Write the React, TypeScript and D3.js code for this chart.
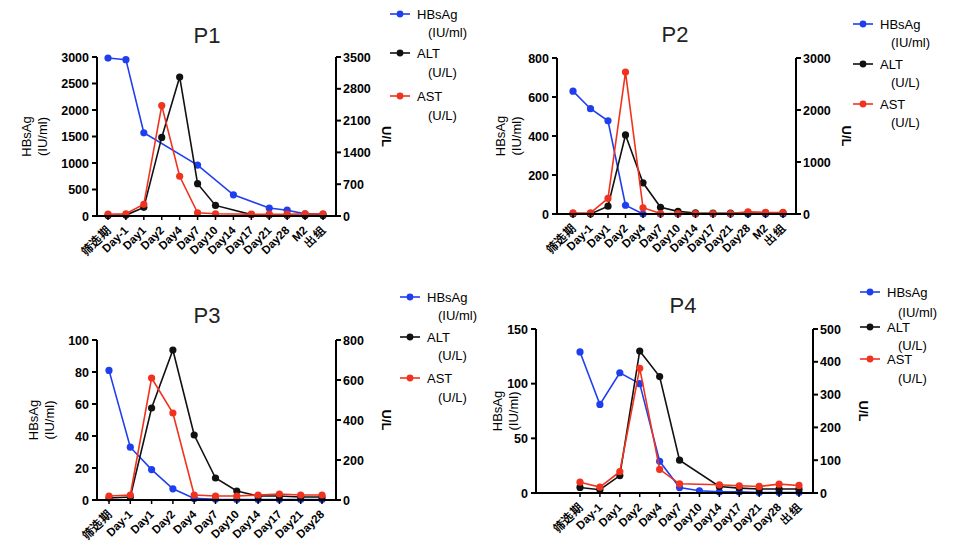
import React from 'react';
import * as d3 from 'd3';

const CATS_A = ['筛选期', 'Day-1', 'Day1', 'Day2', 'Day4', 'Day7', 'Day10', 'Day14', 'Day17', 'Day21', 'Day28', 'M2', '出组'];
const CATS_P3 = ['筛选期', 'Day-1', 'Day1', 'Day2', 'Day4', 'Day7', 'Day10', 'Day14', 'Day17', 'Day21', 'Day28'];
const CATS_P4 = ['筛选期', 'Day-1', 'Day1', 'Day2', 'Day4', 'Day7', 'Day10', 'Day14', 'Day17', 'Day21', 'Day28', '出组'];

type V = number | null;

const P1_HBSAG: V[] = [2980, 2950, 1570, null, null, 960, null, 400, null, 150, 110, 40, 30];
const P1_ALT: V[] = [10, 20, 190, 1730, 3060, 712, 233, null, 30, 20, 15, 10, 10];
const P1_AST: V[] = [40, 50, 257, 2430, 875, 70, 50, null, 40, 40, 40, 50, 45];

const P2_HBSAG: V[] = [630, 540, 478, 45, 0, 0, 0, 0, 0, 0, 0, 0, 0];
const P2_ALT: V[] = [0, 0, 150, 1520, 600, 130, 50, 20, 15, 15, 20, 20, 20];
const P2_AST: V[] = [20, 20, 300, 2730, 120, 10, 10, 10, 10, 10, 40, 30, 30];

const P3_HBSAG: V[] = [81, 33, 19, 7, 1, 0.5, 0.3, 0.3, 0.3, 0.3, 0.3];
const P3_ALT: V[] = [10, 15, 460, 750, 325, 110, 45, 20, 20, 15, 15];
const P3_AST: V[] = [20, 25, 610, 435, 25, 20, 20, 25, 30, 25, 25];

const P4_HBSAG: V[] = [129, 81, 110, 100, 29, 5, 2, 1, 1, 0.5, 0.5, 0.5];
const P4_ALT: V[] = [17, 10, 53, 433, 355, 100, null, 20, 15, 12, 12, 12];
const P4_AST: V[] = [33, 18, 65, 380, 72, 28, null, 25, 22, 20, 27, 23];

const BLUE = '#1f3fef';
const RED = '#f0321e';
const BLACK = '#111';
const FONT = 'Liberation Sans, Arial, sans-serif';

interface PanelProps {
  title: string;
  cats: string[];
  hbsag: V[];
  alt: V[];
  ast: V[];
  leftMax: number;
  leftTicks: number[];
  rightMax: number;
  rightTicks: number[];
  box: { left: number; right: number; top: number; bottom: number; x0: number; x1: number };
  labelOffset: number;
  titleX: number;
  titleY: number;
  legend: { x: number; ys: number[] };
}

function Panel(p: PanelProps) {
  const { box } = p;
  const x = d3.scalePoint<string>().domain(p.cats).range([box.x0, box.x1]);
  const yl = d3.scaleLinear().domain([0, p.leftMax]).range([box.bottom, box.top]);
  const yr = d3.scaleLinear().domain([0, p.rightMax]).range([box.bottom, box.top]);
  const series = [
    { vals: p.hbsag, y: yl, color: BLUE },
    { vals: p.alt, y: yr, color: BLACK },
    { vals: p.ast, y: yr, color: RED },
  ];
  const legendItems = [
    { name: 'HBsAg', unit: '(IU/ml)', color: BLUE },
    { name: 'ALT', unit: '(U/L)', color: BLACK },
    { name: 'AST', unit: '(U/L)', color: RED },
  ];
  const midY = (box.top + box.bottom) / 2;
  return (
    <g fontFamily={FONT}>
      <text x={p.titleX} y={p.titleY} textAnchor="middle" fontSize={22} fill="#222">{p.title}</text>
      {series.map((s, i) => {
        const pts = p.cats
          .map((c, j) => ({ c, v: s.vals[j] }))
          .filter((d) => d.v !== null) as { c: string; v: number }[];
        const line = d3.line<{ c: string; v: number }>().x((d) => x(d.c)!).y((d) => s.y(d.v));
        return (
          <g key={i}>
            <path d={line(pts) || ''} fill="none" stroke={s.color} strokeWidth={1.6} />
            {pts.map((d, j) => (
              <circle key={j} cx={x(d.c)} cy={s.y(d.v)} r={3.6} fill={s.color} />
            ))}
          </g>
        );
      })}
      {/* axes */}
      <line x1={box.left} x2={box.left} y1={box.top} y2={box.bottom} stroke="#000" strokeWidth={2} />
      <line x1={box.right} x2={box.right} y1={box.top} y2={box.bottom} stroke="#000" strokeWidth={2} />
      <line x1={box.left} x2={box.right} y1={box.bottom} y2={box.bottom} stroke="#000" strokeWidth={2} />
      {p.leftTicks.map((t) => (
        <g key={'l' + t}>
          <line x1={box.left - 5} x2={box.left} y1={yl(t)} y2={yl(t)} stroke="#000" strokeWidth={2} />
          <text x={box.left - 8} y={yl(t) + 4.5} textAnchor="end" fontSize={12.5} fontWeight="bold">{t}</text>
        </g>
      ))}
      {p.rightTicks.map((t) => (
        <g key={'r' + t}>
          <line x1={box.right} x2={box.right + 5} y1={yr(t)} y2={yr(t)} stroke="#000" strokeWidth={2} />
          <text x={box.right + 7} y={yr(t) + 4.5} textAnchor="start" fontSize={12.5} fontWeight="bold">{t}</text>
        </g>
      ))}
      {p.cats.map((c) => (
        <g key={c}>
          <line x1={x(c)} x2={x(c)} y1={box.bottom} y2={box.bottom + 4} stroke="#000" strokeWidth={1.5} />
          <text
            transform={`translate(${x(c)! + 3},${box.bottom + 15}) rotate(-45)`}
            textAnchor="end"
            fontSize={11.5}
            fontWeight="bold"
          >{c}</text>
        </g>
      ))}
      <text transform={`translate(${box.left - p.labelOffset},${midY}) rotate(-90)`} textAnchor="middle" fontSize={13}>HBsAg</text>
      <text transform={`translate(${box.left - p.labelOffset + 16},${midY}) rotate(-90)`} textAnchor="middle" fontSize={13}>(IU/ml)</text>
      <text transform={`translate(${box.right + 46},${midY}) rotate(90)`} textAnchor="middle" fontSize={13} fontWeight="bold">U/L</text>
      {legendItems.map((it, i) => (
        <g key={it.name}>
          <line x1={p.legend.x} x2={p.legend.x + 20} y1={p.legend.ys[i * 2]} y2={p.legend.ys[i * 2]} stroke={it.color} strokeWidth={1.6} />
          <circle cx={p.legend.x + 10} cy={p.legend.ys[i * 2]} r={3.4} fill={it.color} />
          <text x={p.legend.x + 27} y={p.legend.ys[i * 2] + 5} fontSize={13}>{it.name}</text>
          <text x={p.legend.x + 38} y={p.legend.ys[i * 2 + 1] + 5} fontSize={13}>{it.unit}</text>
        </g>
      ))}
    </g>
  );
}

export default function App() {
  return (
    <svg width={960} height={546} style={{ position: 'absolute', left: 0, top: 0, background: '#fff' }}>
      <Panel
        title="P1" cats={CATS_A} hbsag={P1_HBSAG} alt={P1_ALT} ast={P1_AST}
        leftMax={3000} leftTicks={[0, 500, 1000, 1500, 2000, 2500, 3000]}
        rightMax={3500} rightTicks={[0, 700, 1400, 2100, 2800, 3500]}
        box={{ left: 97, right: 336, top: 57, bottom: 216, x0: 108, x1: 323 }}
        labelOffset={66}
        titleX={207} titleY={43}
        legend={{ x: 390, ys: [14, 32, 53, 72, 96, 115] }}
      />
      <Panel
        title="P2" cats={CATS_A} hbsag={P2_HBSAG} alt={P2_ALT} ast={P2_AST}
        leftMax={800} leftTicks={[0, 200, 400, 600, 800]}
        rightMax={3000} rightTicks={[0, 1000, 2000, 3000]}
        box={{ left: 557, right: 796, top: 58, bottom: 214, x0: 573, x1: 783 }}
        labelOffset={52}
        titleX={675} titleY={42}
        legend={{ x: 853, ys: [24, 42, 64, 82, 104, 122] }}
      />
      <Panel
        title="P3" cats={CATS_P3} hbsag={P3_HBSAG} alt={P3_ALT} ast={P3_AST}
        leftMax={100} leftTicks={[0, 20, 40, 60, 80, 100]}
        rightMax={800} rightTicks={[0, 200, 400, 600, 800]}
        box={{ left: 97, right: 336, top: 340, bottom: 500, x0: 109, x1: 322 }}
        labelOffset={59}
        titleX={207} titleY={323}
        legend={{ x: 400, ys: [297, 315, 337, 355, 378, 397] }}
      />
      <Panel
        title="P4" cats={CATS_P4} hbsag={P4_HBSAG} alt={P4_ALT} ast={P4_AST}
        leftMax={150} leftTicks={[0, 50, 100, 150]}
        rightMax={500} rightTicks={[0, 100, 200, 300, 400, 500]}
        box={{ left: 536, right: 813, top: 329, bottom: 493, x0: 580, x1: 799 }}
        labelOffset={34}
        titleX={683} titleY={313}
        legend={{ x: 860, ys: [292, 312, 327, 345, 359, 378] }}
      />
    </svg>
  );
}
